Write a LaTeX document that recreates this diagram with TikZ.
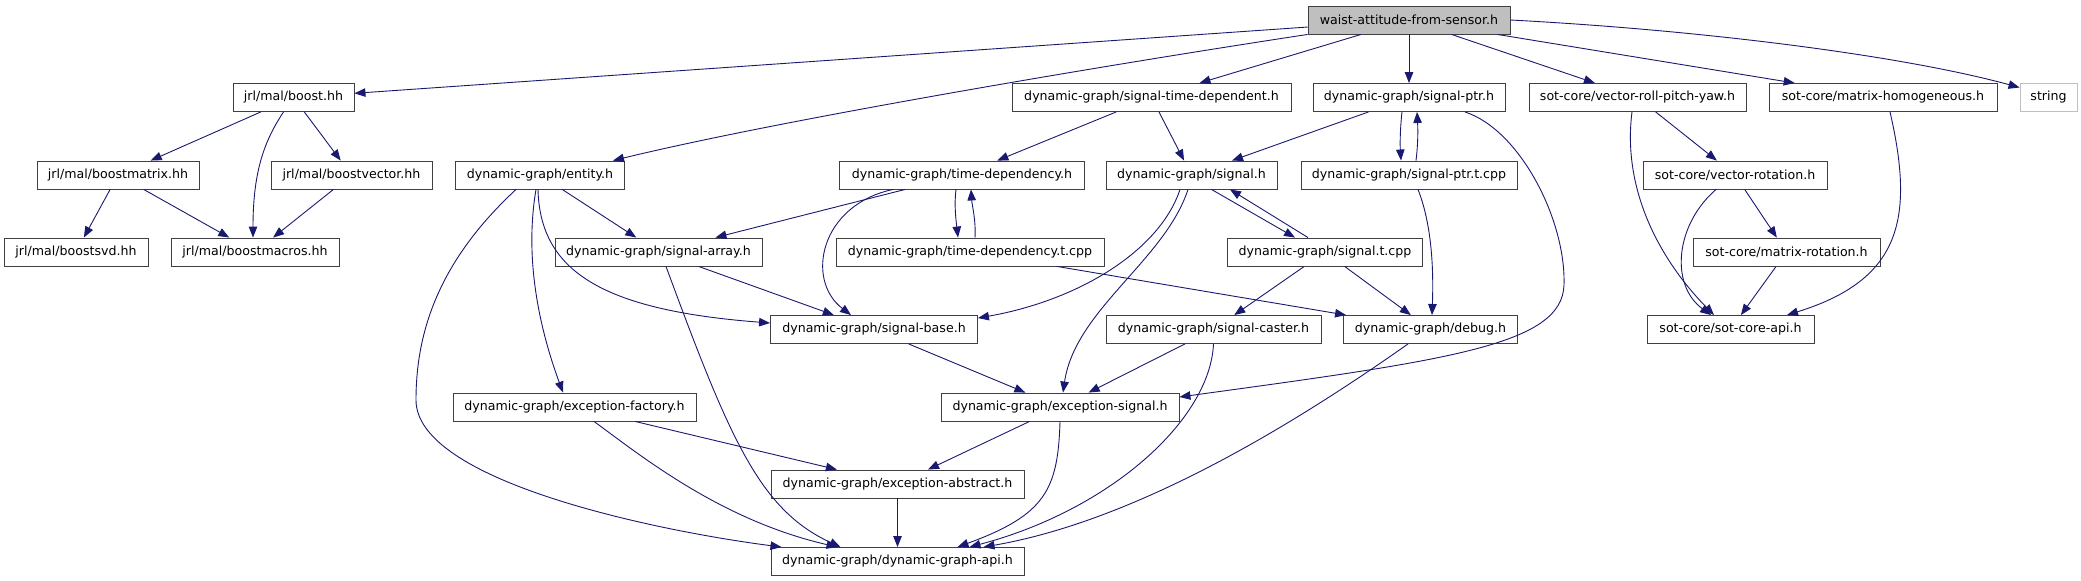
\documentclass[tikz,border=0pt]{standalone}
\usepackage{fontspec}
\setmainfont{DejaVu Sans}
\usetikzlibrary{arrows.meta}
\definecolor{midnightblue}{RGB}{25,25,112}
\tikzset{
  file/.style={draw=black!75, line width=0.9pt, minimum height=28pt, inner xsep=2pt, inner ysep=0pt, font=\fontsize{12.6}{14}\selectfont},
  mainfile/.style={file, fill=black!25},
  sysfile/.style={file, draw=black!25},
  dep/.style={draw=midnightblue, line width=0.9pt, -{Triangle[length=11pt,width=8.5pt]}}
}
\begin{document}
\begin{tikzpicture}[x=1pt,y=-1pt]
            \useasboundingbox (0,0) rectangle (2081,581);
            % Files
            \node[mainfile, minimum width=202] (waist) at (1409,20) {waist-attitude-from-sensor.h};
            \node[file, minimum width=121] (boost) at (293.5,97.5) {jrl/mal/boost.hh};
            \node[file, minimum width=279] (sigtd) at (1151.5,97.5) {dynamic-graph/signal-time-dependent.h};
            \node[file, minimum width=192] (sigptr) at (1409,97.5) {dynamic-graph/signal-ptr.h};
            \node[file, minimum width=217] (vrpy) at (1637.5,97.5) {sot-core/vector-roll-pitch-yaw.h};
            \node[file, minimum width=228] (mhom) at (1883,97.5) {sot-core/matrix-homogeneous.h};
            \node[sysfile, minimum width=57] (string) at (2048.5,97.5) {string};
            \node[file, minimum width=162] (bmatrix) at (118,175) {jrl/mal/boostmatrix.hh};
            \node[file, minimum width=161] (bvector) at (351.5,175) {jrl/mal/boostvector.hh};
            \node[file, minimum width=169] (entity) at (540,175) {dynamic-graph/entity.h};
            \node[file, minimum width=245] (timedep) at (962,175) {dynamic-graph/time-dependency.h};
            \node[file, minimum width=171] (signal) at (1191.5,175) {dynamic-graph/signal.h};
            \node[file, minimum width=216] (sigptrt) at (1409,175) {dynamic-graph/signal-ptr.t.cpp};
            \node[file, minimum width=184] (vrot) at (1735,175) {sot-core/vector-rotation.h};
            \node[file, minimum width=144] (bsvd) at (76,252) {jrl/mal/boostsvd.hh};
            \node[file, minimum width=168] (bmacros) at (255,252) {jrl/mal/boostmacros.hh};
            \node[file, minimum width=207] (sigarray) at (658.5,252) {dynamic-graph/signal-array.h};
            \node[file, minimum width=268] (timedept) at (970,252) {dynamic-graph/time-dependency.t.cpp};
            \node[file, minimum width=195] (signalt) at (1325,252) {dynamic-graph/signal.t.cpp};
            \node[file, minimum width=187] (mrot) at (1786.5,252) {sot-core/matrix-rotation.h};
            \node[file, minimum width=207] (sigbase) at (874,329.5) {dynamic-graph/signal-base.h};
            \node[file, minimum width=215] (sigcaster) at (1213.5,329.5) {dynamic-graph/signal-caster.h};
            \node[file, minimum width=174] (debug) at (1430.5,329.5) {dynamic-graph/debug.h};
            \node[file, minimum width=167] (sotapi) at (1730.5,329.5) {sot-core/sot-core-api.h};
            \node[file, minimum width=243] (excfactory) at (574.5,407) {dynamic-graph/exception-factory.h};
            \node[file, minimum width=238] (excsignal) at (1060,407) {dynamic-graph/exception-signal.h};
            \node[file, minimum width=253] (excabstract) at (897.5,484) {dynamic-graph/exception-abstract.h};
            \node[file, minimum width=253] (dgapi) at (897.5,561.5) {dynamic-graph/dynamic-graph-api.h};
            % Includes
            \draw[dep] (waist) -- (boost);
            \draw[dep] (waist.south west) .. controls (1100,66) and (780,120) .. ([xshift=73]entity.north);
            \draw[dep] (waist) -- (sigtd);
            \draw[dep] (waist) -- (sigptr);
            \draw[dep] (waist) -- (vrpy);
            \draw[dep] (waist) -- (mhom);
            \draw[dep] (waist.east) .. controls (1700,30) and (1900,55) .. ([yshift=10]string.west);
            \draw[dep] (boost) -- (bmatrix);
            \draw[dep] ([xshift=-10]boost.south) .. controls (265,140) and (253,170) .. ([xshift=-2]bmacros.north);
            \draw[dep] (boost) -- (bvector);
            \draw[dep] (bmatrix) -- (bsvd);
            \draw[dep] (bmatrix) -- (bmacros);
            \draw[dep] (bvector) -- (bmacros);
            \draw[dep] (entity) -- (sigarray);
            \draw[dep] ([xshift=-24]entity.south) .. controls (440,260) and (416,330) .. (416,400) .. controls (416,480) and (650,530) .. ([xshift=-116]dgapi.north);
            \draw[dep] ([xshift=-4]entity.south) .. controls (524,260) and (540,330) .. ([xshift=-11.5]excfactory.north);
            \draw[dep] ([xshift=-2]entity.south) .. controls (540,270) and (600,310) .. ([yshift=6.5]sigbase.west);
            \draw[dep] (sigtd) -- (timedep);
            \draw[dep] (sigtd) -- (signal);
            \draw[dep] (sigptr) -- (signal);
            \draw[dep] ([xshift=-7]sigptr.south) .. controls (1400,130) and (1400,145) .. ([xshift=-8]sigptrt.north);
            \draw[dep] ([xshift=7]sigptrt.north) .. controls (1418,145) and (1418,130) .. ([xshift=8]sigptr.south);
            \draw[dep] ([xshift=56]sigptr.south) .. controls (1520,130) and (1566,220) .. (1564,285) .. controls (1562,345) and (1450,360) .. ([yshift=10]excsignal.east);
            \draw[dep] ([xshift=9]sigptrt.south) .. controls (1430,220) and (1434,260) .. ([xshift=1.5]debug.north);
            \draw[dep] (timedep) -- (sigarray);
            \draw[dep] ([xshift=-69]timedep.south) .. controls (820,205) and (805,280) .. ([xshift=-23]sigbase.north);
            \draw[dep] ([xshift=-6]timedep.south) .. controls (954,205) and (956,220) .. ([xshift=-12]timedept.north);
            \draw[dep] ([xshift=5]timedept.north) .. controls (976,220) and (972,205) .. ([xshift=9]timedep.south);
            \draw[dep] ([xshift=87]timedept.south) -- ([xshift=3]debug.north west);
            \draw[dep] ([xshift=-11.5]signal.south) .. controls (1160,250) and (1080,300) .. ([yshift=-3]sigbase.north east);
            \draw[dep] ([xshift=-3.5]signal.south) .. controls (1165,260) and (1075,310) .. ([xshift=3]excsignal.north);
            \draw[dep] ([xshift=20]signal.south) -- ([xshift=-30]signalt.north);
            \draw[dep] ([xshift=-17]signalt.north) -- ([xshift=38.5]signal.south);
            \draw[dep] (signalt) -- (sigcaster);
            \draw[dep] (signalt) -- (debug);
            \draw[dep] (sigarray) -- (sigbase);
            \draw[dep] ([xshift=7.5]sigarray.south) .. controls (730,440) and (760,510) .. ([xshift=-57]dgapi.north);
            \draw[dep] (sigbase) -- (excsignal);
            \draw[dep] (sigcaster) -- (excsignal);
            \draw[dep] (sigcaster.south) .. controls (1210,420) and (1110,510) .. ([xshift=72]dgapi.north);
            \draw[dep] ([xshift=-22.5]debug.south) .. controls (1300,420) and (1140,520) .. ([xshift=86]dgapi.north);
            \draw[dep] (excsignal) -- (excabstract);
            \draw[dep] (excsignal.south) .. controls (1058,490) and (1045,515) .. ([xshift=60]dgapi.north);
            \draw[dep] (excfactory) -- (excabstract);
            \draw[dep] ([xshift=19.5]excfactory.south) .. controls (640,455) and (720,520) .. ([xshift=-60]dgapi.north);
            \draw[dep] (excabstract) -- (dgapi);
            \draw[dep] (vrpy) -- (vrot);
            \draw[dep] ([xshift=-5.5]vrpy.south) .. controls (1622,190) and (1660,260) .. ([xshift=-16.5]sotapi.north);
            \draw[dep] (vrot) -- (mrot);
            \draw[dep] ([xshift=-19]vrot.south) .. controls (1675,225) and (1670,285) .. ([xshift=-19.5]sotapi.north);
            \draw[dep] (mrot) -- (sotapi);
            \draw[dep] ([xshift=7]mhom.south) .. controls (1915,220) and (1900,280) .. ([xshift=56.5]sotapi.north);
\end{tikzpicture}
\end{document}
